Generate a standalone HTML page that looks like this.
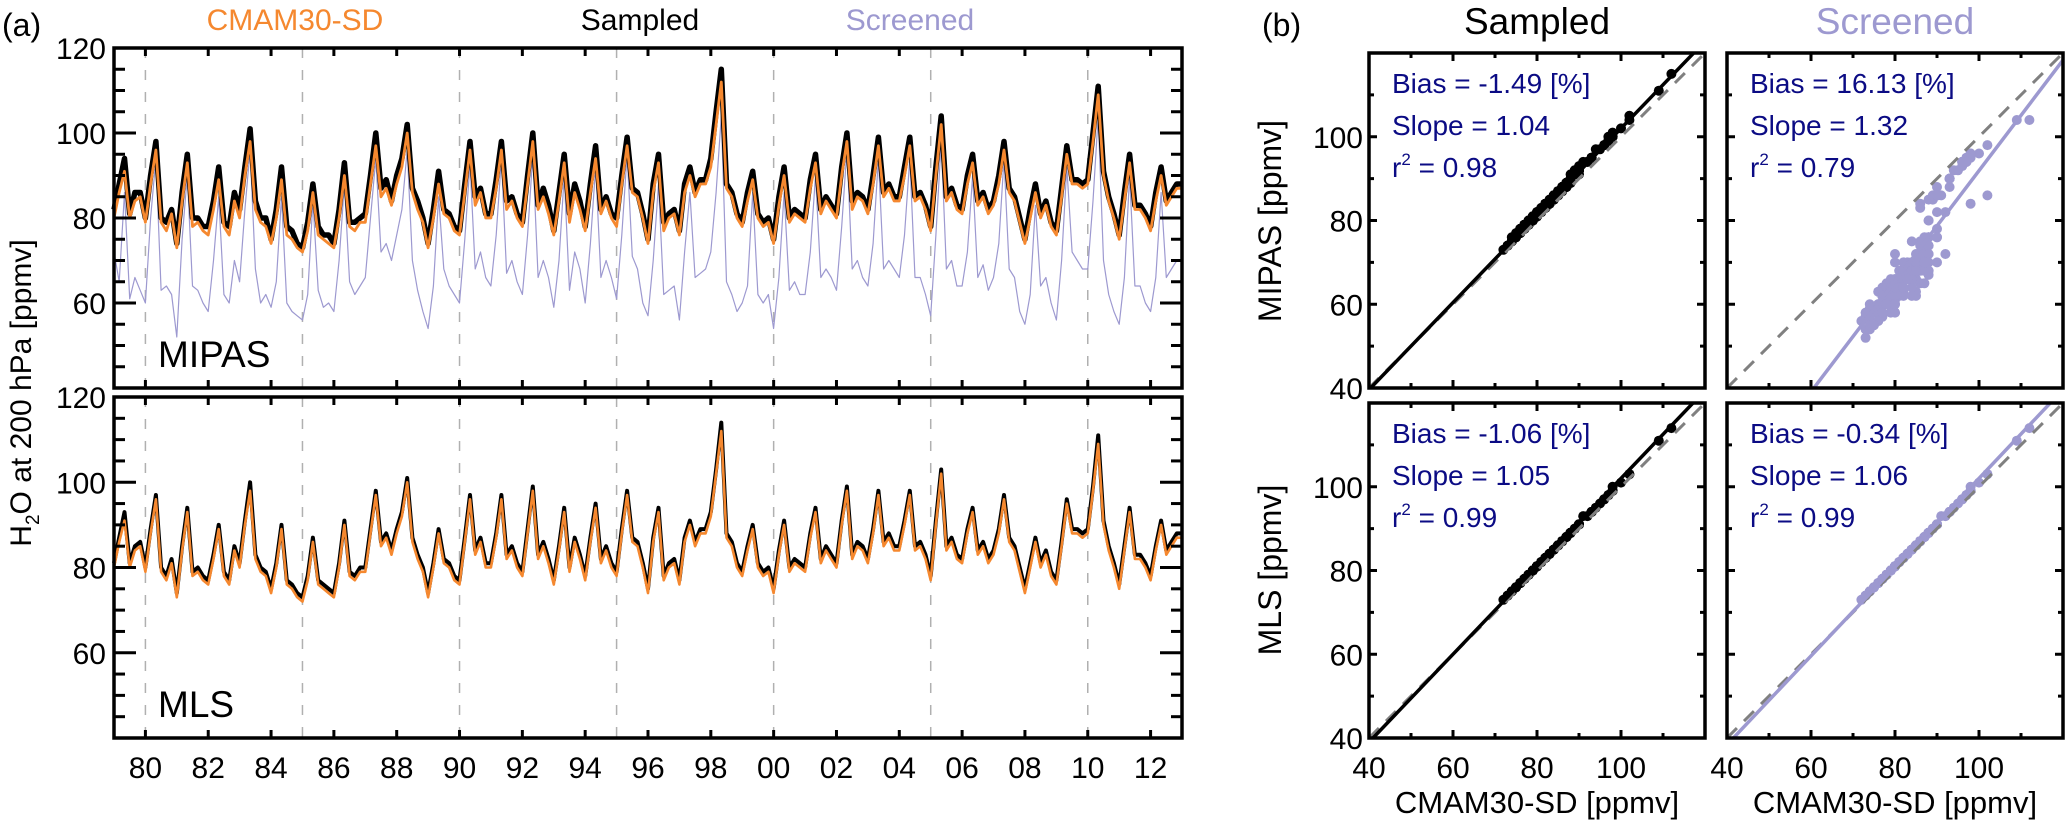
<!DOCTYPE html>
<html><head><meta charset="utf-8"><style>
html,body{margin:0;padding:0;background:#fff;}
svg{display:block;font-family:"Liberation Sans",sans-serif;}
</style></head><body>
<svg id="fig" width="2067" height="825" viewBox="0 0 2067 825" xmlns="http://www.w3.org/2000/svg"></svg>
<script>
// ---- data (6 samples per year, Jan 1979 .. Jan 2013) ----
const startYear = 1979;
const samplesPerYear = 6;
const cmam = [80,86,91,80,84,85, 79,88,96,79,77,81, 73,84,93,78,79,77, 76,82,89,78,76,84, 80,90,98,82,79,78, 74,80,89,76,75,73, 72,77,86,76,75,74, 73,80,90,78,77,79, 79,88,97,85,87,83, 88,92,100,86,82,79, 73,80,88,81,80,77, 76,86,96,83,86,80, 80,87,96,82,84,80, 78,88,98,82,85,81, 76,84,93,79,86,82, 77,86,94,81,84,80, 78,88,97,86,85,80, 74,86,93,77,80,81, 76,86,90,85,88,88, 92,102,112,87,85,80, 78,84,89,80,78,79, 74,83,90,79,81,80, 79,87,93,81,84,82, 80,90,98,82,85,84, 81,88,97,85,87,84, 84,90,97,84,85,82, 77,90,102,84,86,82, 81,88,93,83,85,81, 83,88,96,86,84,79, 74,80,86,80,83,78, 76,85,95,88,88,87, 88,98,109,90,84,80, 75,84,93,82,82,80, 77,84,90,83,85,87, 87];
const mipasSampled = [82,88,94,81,86,86, 80,90,98,80,79,82, 74,86,95,80,80,78, 78,84,92,79,78,86, 82,92,101,84,80,80, 75,82,92,78,77,74, 73,79,88,78,76,76, 74,82,93,79,79,80, 81,90,100,87,89,84, 90,94,102,87,84,80, 74,82,91,82,81,78, 77,88,98,85,87,81, 81,89,98,84,85,81, 79,90,100,83,87,83, 77,86,95,81,88,84, 78,88,97,82,85,81, 80,90,99,87,86,81, 75,88,95,79,81,82, 77,88,92,86,89,89, 94,105,115,88,86,81, 79,86,91,81,79,80, 75,85,92,80,82,81, 80,89,95,82,85,83, 81,92,100,84,86,85, 82,90,99,86,88,85, 85,92,99,85,86,83, 78,92,104,85,87,83, 82,90,95,84,86,82, 84,90,98,87,85,80, 75,82,88,81,84,79, 77,87,97,89,89,88, 89,100,111,91,85,81, 76,86,95,83,83,81, 78,86,92,84,86,88, 88];
const mipasScreened = [72,65,86,61,66,63, 60,80,94,63,64,62, 52,75,90,64,63,60, 58,70,85,62,60,70, 65,82,96,68,60,62, 59,65,85,60,58,57, 56,62,84,63,59,60, 58,70,88,65,62,64, 66,80,94,72,74,70, 76,82,96,70,63,58, 54,64,85,68,64,62, 60,75,93,68,72,66, 64,76,94,67,70,65, 62,76,95,66,70,66, 59,70,90,63,72,68, 60,74,92,66,70,66, 61,76,95,71,68,60, 57,70,88,62,63,64, 56,72,86,66,67,68, 72,86,104,65,62,58, 60,64,86,62,60,62, 54,66,86,63,65,62, 62,72,90,66,68,66, 63,78,96,68,70,66, 64,74,94,68,70,68, 66,76,94,66,66,62, 57,76,98,68,70,64, 64,72,90,66,69,63, 66,74,94,68,66,58, 55,62,83,64,66,60, 56,70,92,72,70,68, 68,84,104,70,62,58, 55,66,90,64,64,60, 58,66,86,66,68,70, 70];
const mlsSampled = [81,87,93,81,85,86, 80,89,97,80,78,82, 74,85,94,79,80,78, 77,83,90,79,77,85, 81,91,100,83,80,79, 75,81,90,77,76,74, 73,78,87,77,76,75, 74,81,91,79,78,80, 80,89,98,86,88,84, 89,93,101,87,83,80, 74,81,89,82,81,78, 77,87,97,84,87,81, 81,88,97,83,85,81, 79,89,99,83,86,82, 77,85,94,80,87,83, 78,87,95,82,85,81, 79,89,98,87,86,81, 75,87,94,78,81,82, 77,87,91,86,89,89, 93,103,114,88,86,81, 79,85,90,81,79,80, 75,84,91,80,82,81, 80,88,94,82,85,83, 81,91,99,83,86,85, 82,89,98,86,88,85, 85,91,98,85,86,83, 78,91,103,85,87,83, 82,89,94,84,86,82, 84,89,97,87,85,80, 75,81,87,81,84,79, 77,86,96,89,89,88, 89,99,111,91,85,81, 76,85,94,83,83,81, 78,85,91,84,86,88, 88];
const yearTickLabels = ["80","82","84","86","88","90","92","94","96","98","00","02","04","06","08","10","12"];
const yearTickValues = [1980,1982,1984,1986,1988,1990,1992,1994,1996,1998,2000,2002,2004,2006,2008,2010,2012];
const dashedYears = [1980,1985,1990,1995,2000,2005,2010];
const tsYTicks = [60,80,100,120];
const scTicks = [40,60,80,100];
const statBias = ["-1.49","16.13","-1.06","-0.34"];
const statSlope = ["1.04","1.32","1.05","1.06"];
const statR2 = ["0.98","0.79","0.99","0.99"];
const fitSlope = [1.04,1.32,1.05,1.06];
const fitIntercept = [-2,-40.1,-3,-4];

const svg = document.getElementById('fig');
const NS = 'http://www.w3.org/2000/svg';
function mk(tag, attrs, parent){
  const e = document.createElementNS(NS, tag);
  for (const k in attrs) e.setAttribute(k, attrs[k]);
  (parent||svg).appendChild(e);
  return e;
}
function txt(s, x, y, size, fill, anchor, parent){
  const t = mk('text', {x:x, y:y, 'font-size':size, fill:fill||'#000', 'text-anchor':anchor||'start'}, parent);
  t.textContent = s;
  return t;
}

// ---- time-series panels ----
const TX0 = 114, TX1 = 1182;
function xt(yr){ return TX0 + (yr - 1979) / 34 * (TX1 - TX0); }
function tsPanel(top, bottom, name, label, series){
  const g = mk('g', {});
  
  
  const yv = v => bottom - (v - 40) / 80 * (bottom - top);
  dashedYears.forEach(yr => {
    const l = mk('line', {x1:xt(yr), x2:xt(yr), y1:top, y2:bottom, stroke:'#b0b0b0', 'stroke-width':1.5, 'stroke-dasharray':'10,12'}, g);
    
    
  });
  series.forEach(s => {
    let d = '';
    s.data.forEach((v, i) => { d += (i ? 'L' : 'M') + xt(startYear + i / samplesPerYear).toFixed(1) + ',' + yv(v).toFixed(1); });
    const p = mk('path', {d:d, fill:'none', stroke:s.color, 'stroke-width':s.w, 'stroke-linejoin':'round'}, g);
    
    
  });
  // ticks
  for (let v = 45; v < 120; v += 5) {
    const len = (v % 20 === 0) ? 22 : 11;
    mk('line', {x1:TX0, x2:TX0 + len, y1:yv(v), y2:yv(v), stroke:'#000', 'stroke-width':3}, g);
    mk('line', {x1:TX1, x2:TX1 - len, y1:yv(v), y2:yv(v), stroke:'#000', 'stroke-width':3}, g);
  }
  yearTickValues.forEach(yr => {
    mk('line', {x1:xt(yr), x2:xt(yr), y1:bottom, y2:bottom - 8, stroke:'#000', 'stroke-width':3}, g);
    mk('line', {x1:xt(yr), x2:xt(yr), y1:top, y2:top + 8, stroke:'#000', 'stroke-width':3}, g);
  });
  const fr = mk('rect', {x:TX0, y:top, width:TX1 - TX0, height:bottom - top, fill:'none', stroke:'#000', 'stroke-width':3.5}, g);
  
  
  tsYTicks.forEach(v => {
    const t = txt(String(v), 106, yv(v) + 11, 30, '#000', 'end', g);
    
    
  });
  const lt = txt(label, 158, bottom - 21, 37, '#000', 'start', g);
  
  
}
tsPanel(48, 388, 'mipas-timeseries', 'MIPAS', [
  {data:mipasScreened, color:'#9d99d0', w:1.2, name:'mipas-screened-line'},
  {data:mipasSampled, color:'#000', w:5.5, name:'mipas-sampled-line'},
  {data:cmam, color:'#f5882f', w:2.8, name:'cmam-line'}
]);
tsPanel(397, 738, 'mls-timeseries', 'MLS', [
  {data:mlsSampled, color:'#000', w:4, name:'mls-sampled-line'},
  {data:cmam, color:'#f5882f', w:2.6, name:'cmam-line-mls'}
]);
yearTickLabels.forEach((s, i) => {
  const t = txt(s, xt(yearTickValues[i]), 778, 30, '#000', 'middle');
  
  
});

// ---- scatter panels ----
const panels = [
  {x0:1369, x1:1705, y0:53, y1:388, ys:mipasSampled, color:'#000', name:'scatter-mipas-sampled'},
  {x0:1727, x1:2063, y0:53, y1:388, ys:mipasScreened, color:'#9d99d0', name:'scatter-mipas-screened'},
  {x0:1369, x1:1705, y0:403, y1:738, ys:mlsSampled, color:'#000', name:'scatter-mls-sampled'},
  {x0:1727, x1:2063, y0:403, y1:738, ys:mlsSampled, color:'#9d99d0', name:'scatter-mls-screened'}
];
panels.forEach((P, k) => {
  const g = mk('g', {});
  
  
  const sx = v => P.x0 + (v - 40) / 80 * (P.x1 - P.x0);
  const sy = v => P.y1 - (v - 40) / 80 * (P.y1 - P.y0);
  const cp = mk('clipPath', {id:'cp' + k}, g);
  mk('rect', {x:P.x0, y:P.y0, width:P.x1 - P.x0, height:P.y1 - P.y0}, cp);
  const inner = mk('g', {'clip-path':'url(#cp' + k + ')'}, g);
  cmam.forEach((xv, i) => {
    const c = mk('circle', {cx:sx(xv).toFixed(1), cy:sy(P.ys[i]).toFixed(1), r:5, fill:P.color}, inner);
    
    
  });
  const one = mk('line', {x1:sx(40), y1:sy(40), x2:sx(120), y2:sy(120), stroke:'#808080', 'stroke-width':3, 'stroke-dasharray':'14,10'}, inner);
  
  
  const a = fitSlope[k], b = fitIntercept[k];
  const fit = mk('line', {x1:sx(40), y1:sy(a * 40 + b), x2:sx(120), y2:sy(a * 120 + b), stroke:P.color, 'stroke-width':3.5}, inner);
  
  
  for (let v = 50; v < 120; v += 10) {
    const len = (v % 20 === 0) ? 8 : 5;
    mk('line', {x1:sx(v), x2:sx(v), y1:P.y1, y2:P.y1 - len, stroke:'#000', 'stroke-width':3}, g);
    mk('line', {x1:sx(v), x2:sx(v), y1:P.y0, y2:P.y0 + len, stroke:'#000', 'stroke-width':3}, g);
    mk('line', {x1:P.x0, x2:P.x0 + len, y1:sy(v), y2:sy(v), stroke:'#000', 'stroke-width':3}, g);
    mk('line', {x1:P.x1, x2:P.x1 - len, y1:sy(v), y2:sy(v), stroke:'#000', 'stroke-width':3}, g);
  }
  const fr = mk('rect', {x:P.x0, y:P.y0, width:P.x1 - P.x0, height:P.y1 - P.y0, fill:'none', stroke:'#000', 'stroke-width':3.5}, g);
  
  
  const nv = '#0b0b84';
  const t1 = txt('Bias = ' + statBias[k] + ' [%]', P.x0 + 23, P.y0 + 40, 28, nv, 'start', g);
  
  
  const t2 = txt('Slope =  ' + statSlope[k], P.x0 + 23, P.y0 + 82, 28, nv, 'start', g);
  
  
  const t3 = mk('text', {x:P.x0 + 23, y:P.y0 + 124, 'font-size':28, fill:nv}, g);
  t3.innerHTML = 'r<tspan font-size="17" dy="-12">2</tspan><tspan dy="12"> =  ' + statR2[k] + '</tspan>';
  
  
  if (k >= 2) {
    scTicks.forEach(v => {
      const t = txt(String(v), sx(v), 778, 30, '#000', 'middle', g);
      
      
    });
    const xt2 = txt('CMAM30-SD [ppmv]', (P.x0 + P.x1) / 2, 813, 31, '#000', 'middle', g);
    
    
  }
  if (k % 2 === 0) {
    scTicks.forEach(v => {
      const t = txt(String(v), P.x0 - 6, sy(v) + 11, 30, '#000', 'end', g);
      
      
    });
  }
});

// ---- titles / labels ----
const la = txt('(a)', 2, 36, 32, '#000', 'start');


const lb = txt('(b)', 1262, 36, 32, '#000', 'start');


const l1 = txt('CMAM30-SD', 295, 30, 30, '#f5882f', 'middle');


const l2 = txt('Sampled', 640, 30, 30, '#000', 'middle');


const l3 = txt('Screened', 910, 30, 30, '#9d99d0', 'middle');


const c1 = txt('Sampled', 1537, 34, 37, '#000', 'middle');


const c2 = txt('Screened', 1895, 34, 37, '#9d99d0', 'middle');


const yl = mk('text', {x:0, y:0, 'font-size':30, 'text-anchor':'middle', transform:'translate(31,393) rotate(-90)'});
yl.innerHTML = 'H<tspan font-size="19" dy="8">2</tspan><tspan dy="-8">O at 200 hPa [ppmv]</tspan>';


const ym = mk('text', {x:0, y:0, 'font-size':32, 'text-anchor':'middle', transform:'translate(1281,221) rotate(-90)'});
ym.textContent = 'MIPAS [ppmv]';


const yml = mk('text', {x:0, y:0, 'font-size':32, 'text-anchor':'middle', transform:'translate(1281,570) rotate(-90)'});
yml.textContent = 'MLS [ppmv]';


</script>
</body></html>
